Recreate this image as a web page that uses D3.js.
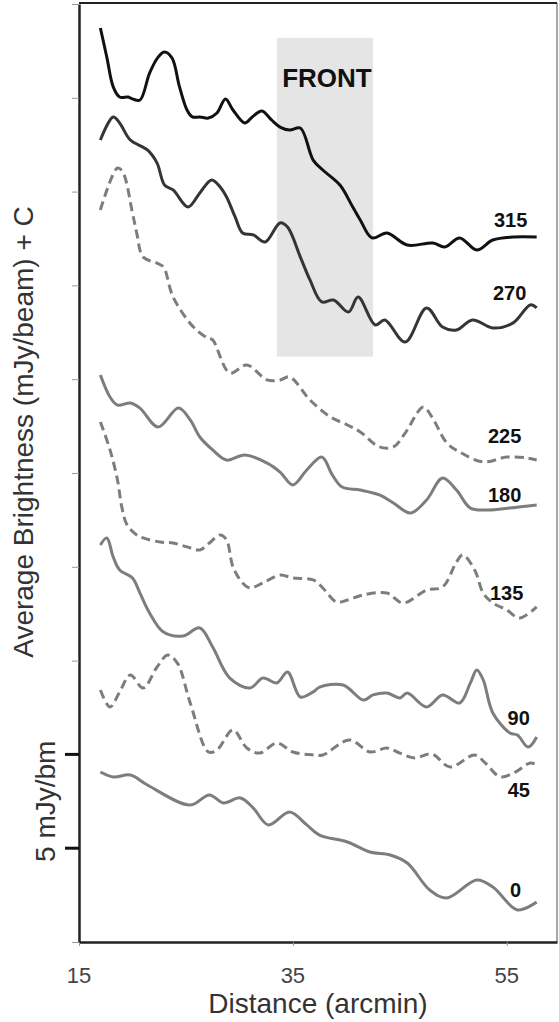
<!DOCTYPE html>
<html>
<head>
<meta charset="utf-8">
<script src="https://d3js.org/d3.v7.min.js"></script>
<style>
    body { margin: 0; background: white; }
    svg { display: block; font-family: 'Liberation Sans', Arial, sans-serif; }
    .tick-label { font-size: 22px; fill: #444; }
    .axis-title { font-size: 28px; fill: #333; }
    .series-label { font-size: 20px; font-weight: bold; fill: #111; }
</style>
</head>
<body>
<svg id="svg-profiles" width="559" height="1022"></svg>
<script>

////////////
/// DATA ///
////////////

// position angle of each profile (degrees), top to bottom
const angles = ['315', '270', '225', '180', '135', '90', '45', '0'];

// [distance (arcmin), average brightness (mJy/beam) + C]
const p315 = [[17.0,48.72],[17.6,47.17],[18.2,45.58],[18.8,45.04],[19.6,45.04],[20.0,44.94],[20.7,44.88],
    [21.6,46.32],[22.4,47.17],[23.0,47.44],[23.7,47.12],[24.4,45.58],[25.1,44.35],[25.6,43.98],[26.3,43.98],
    [27.1,43.92],[27.9,44.19],[28.7,44.94],[29.4,44.35],[30.5,43.66],[31.2,43.98],[32.1,44.30],[33.0,43.82],
    [33.8,43.44],[34.7,43.28],[35.7,43.39],[36.9,41.68],[37.8,41.15],[39.4,40.35],[40.6,39.18],[41.3,38.49],
    [42.4,37.53],[43.8,37.79],[45.7,37.15],[48.1,37.26],[49.2,37.05],[50.6,37.53],[52.2,36.89],[53.7,37.42],
    [55.6,37.58],[57.8,37.58]];

const p270 = [[17.0,42.75],[18.2,43.98],[18.8,43.66],[19.8,42.75],[21.4,42.22],[22.3,41.52],[23.0,40.35],
    [23.8,40.09],[25.2,39.18],[26.3,39.93],[27.4,40.62],[28.2,40.25],[28.8,39.71],[29.6,38.65],[30.3,37.79],
    [31.3,37.69],[32.4,37.31],[33.8,38.33],[34.5,38.11],[35.7,36.51],[36.6,35.29],[37.7,34.12],[38.8,34.22],
    [40.2,33.58],[41.1,34.38],[42.7,32.89],[43.6,33.16],[45.5,31.98],[47.5,33.80],[49.0,32.78],[50.3,32.62],
    [51.8,33.16],[53.7,32.73],[55.6,33.00],[57.2,33.96],[57.8,33.80]];

const p225 = [[17.0,39.02],[18.6,41.26],[19.1,41.04],[20.0,38.86],[20.4,37.79],[21.0,36.51],[22.3,36.19],
    [22.9,35.98],[23.8,34.38],[25.7,32.78],[27.0,32.20],[27.5,32.09],[29.1,30.33],[30.7,30.76],[32.6,29.96],
    [33.8,29.96],[34.7,30.12],[36.6,28.89],[38.5,27.99],[40.1,27.56],[41.3,27.19],[43.1,26.39],[44.4,26.39],
    [45.5,27.13],[47.2,28.52],[48.0,27.99],[49.4,26.60],[50.6,26.12],[52.8,25.59],[55.0,25.85],[56.9,25.80],
    [57.8,25.69]];

const p180 = [[17.0,30.22],[17.9,29.05],[18.6,28.62],[19.8,28.73],[20.7,28.46],[22.4,27.45],[24.3,28.46],
    [25.4,27.83],[26.3,26.92],[27.5,26.23],[28.8,25.69],[30.5,25.96],[32.6,25.53],[33.8,25.05],[35.0,24.36],
    [36.3,25.16],[37.7,25.85],[38.7,24.89],[39.6,24.25],[41.3,24.09],[43.1,23.83],[44.4,23.40],[46.0,22.87],
    [47.5,23.56],[49.0,24.73],[50.3,24.09],[51.6,23.13],[53.2,23.03],[55.3,23.13],[57.8,23.29]];

const p135 = [[17.0,27.72],[17.9,26.23],[18.6,24.63],[19.0,23.19],[19.5,22.23],[20.4,21.70],[21.0,21.54],
    [22.6,21.32],[23.8,21.27],[25.1,21.06],[26.3,20.90],[27.2,21.27],[28.2,21.70],[28.8,21.43],[29.4,19.99],
    [30.3,19.14],[31.0,18.87],[32.2,19.14],[33.8,19.56],[35.0,19.40],[36.9,19.30],[37.8,18.87],[39.1,18.12],
    [40.1,18.23],[41.6,18.50],[43.8,18.60],[45.3,18.07],[47.5,18.76],[49.0,18.92],[50.3,20.26],[50.9,20.63],
    [52.0,19.83],[52.8,18.60],[53.7,18.07],[55.0,17.70],[56.2,17.27],[57.8,17.86]];

const p90 = [[17.0,21.16],[17.6,21.54],[18.2,20.52],[18.8,19.83],[20.0,19.40],[20.7,18.60],[21.6,17.54],
    [22.9,16.52],[24.7,16.31],[26.3,16.74],[27.5,15.72],[29.1,14.07],[31.0,13.54],[32.2,14.07],[33.5,13.81],
    [34.5,14.39],[35.7,13.06],[36.9,13.33],[37.5,13.59],[39.7,13.70],[41.6,12.90],[42.5,13.17],[43.8,13.27],
    [45.0,13.01],[45.7,13.27],[47.5,12.53],[49.0,13.17],[50.6,12.74],[51.6,13.81],[52.2,14.50],[52.8,13.97],
    [53.7,12.21],[55.3,11.14],[56.0,11.03],[57.0,10.39],[57.8,10.93]];

const p45 = [[17.0,13.43],[17.9,12.53],[18.8,13.33],[19.8,14.23],[21.0,13.54],[22.3,14.66],[23.3,15.30],
    [24.2,14.87],[25.4,12.74],[27.1,10.13],[27.9,10.23],[29.4,11.30],[30.7,10.34],[31.9,10.07],[33.5,10.61],
    [35.0,10.13],[36.9,9.97],[37.8,9.97],[40.3,10.77],[42.2,10.13],[43.8,10.34],[45.0,10.07],[46.4,9.81],
    [48.0,10.02],[49.7,9.33],[52.0,9.97],[53.0,9.54],[54.4,8.80],[55.8,9.06],[57.2,9.54],[57.9,9.43]];

const p0 = [[17.0,9.06],[18.2,8.80],[19.8,8.90],[21.4,8.37],[25.4,7.30],[27.2,7.84],[28.5,7.41],[30.1,7.68],
    [31.3,7.14],[32.7,6.24],[34.7,6.93],[36.3,6.24],[37.5,5.70],[40.1,5.33],[42.2,4.80],[44.1,4.64],
    [45.7,4.21],[47.8,2.77],[49.4,2.35],[52.2,3.30],[53.7,2.93],[56.0,1.71],[57.8,2.13]];

const profiles = [p315, p270, p225, p180, p135, p90, p45, p0];

// axis ticks
const xTicks = [15, 35, 55];
const yTicks = [0, 5, 10, 15, 20, 25, 30, 35, 40, 45, 50];
const scaleBarTicks = [5, 10];

// shaded front region: distance range and brightness range
const frontX = [33.5, 42.5];
const frontY = [31.2, 48.2];

//////////////
/// STYLES ///
//////////////

// line style per profile, same order as angles
const lineStyles = [
    {color: '#111', dash: null},
    {color: '#353535', dash: null},
    {color: '#7d7d7d', dash: '9,5'},
    {color: '#7d7d7d', dash: null},
    {color: '#7d7d7d', dash: '9,5'},
    {color: '#7d7d7d', dash: null},
    {color: '#7d7d7d', dash: '9,5'},
    {color: '#7d7d7d', dash: null}
];

// label placement relative to the end of each line (pixels)
const labelOffsets = [
    {dx: -26, dy: -10}, {dx: -27, dy: -8}, {dx: -32, dy: -17}, {dx: -32, dy: -3},
    {dx: -30, dy: -7}, {dx: -18, dy: -12}, {dx: -19, dy: 32}, {dx: -21, dy: -5}
];

//////////////
/// SCALES ///
//////////////

const svg = d3.select('#svg-profiles');

const plotLeft = 79, plotRight = 557, plotTop = 4, plotBottom = 942;

const xScale = d3.scaleLinear()
    .domain([15, 59.7])
    .range([plotLeft, plotRight]);

const yScale = d3.scaleLinear()
    .domain([0, 50])
    .range([plotBottom, plotTop]);

///////////////////
/// FRONT SHADE ///
///////////////////

svg.append('rect')
    .attr('x', xScale(frontX[0]))
    .attr('y', yScale(frontY[1]))
    .attr('width', xScale(frontX[1]) - xScale(frontX[0]))
    .attr('height', yScale(frontY[0]) - yScale(frontY[1]))
    .attr('fill', '#e5e5e5');

svg.append('text')
    .attr('x', (xScale(frontX[0]) + xScale(frontX[1])) / 2 + 2)
    .attr('y', 87)
    .attr('text-anchor', 'middle')
    .attr('font-size', 26)
    .attr('font-weight', 'bold')
    .attr('fill', '#111')
    .text('FRONT');

/////////////
/// FRAME ///
/////////////

// right and top border
svg.append('line')
    .attr('x1', plotRight).attr('x2', plotRight)
    .attr('y1', plotTop - 1).attr('y2', plotBottom)
    .attr('stroke', '#888').attr('stroke-width', 1.5);

svg.append('line')
    .attr('x1', plotLeft).attr('x2', plotRight)
    .attr('y1', plotTop - 1).attr('y2', plotTop - 1)
    .attr('stroke', '#222').attr('stroke-width', 2);

// x-axis
const xAxis = svg.append('g')
    .attr('transform', 'translate(0,' + plotBottom + ')')
    .call(d3.axisBottom(xScale).tickValues(xTicks).tickSize(4).tickSizeOuter(0).tickFormat(''));
xAxis.select('.domain').attr('stroke', '#222').attr('stroke-width', 2.5);
xAxis.selectAll('.tick line').attr('stroke', '#999');

svg.selectAll('.x-label').data(xTicks).enter()
    .append('text')
    .attr('class', 'tick-label')
    .attr('x', function(d) {return xScale(d)})
    .attr('y', 983)
    .attr('text-anchor', 'middle')
    .text(function(d) {return d});

// y-axis, unlabeled ticks
const yAxis = svg.append('g')
    .attr('transform', 'translate(' + plotLeft + ',0)')
    .call(d3.axisLeft(yScale).tickValues(yTicks).tickSize(7).tickSizeOuter(0).tickFormat(''));
yAxis.select('.domain').attr('stroke', '#222').attr('stroke-width', 2.5);
yAxis.selectAll('.tick line').attr('stroke', '#999');

// bold 5 mJy/bm scale bar ticks
svg.selectAll('.scale-tick').data(scaleBarTicks).enter()
    .append('line')
    .attr('x1', plotLeft - 14).attr('x2', plotLeft)
    .attr('y1', function(d) {return yScale(d)})
    .attr('y2', function(d) {return yScale(d)})
    .attr('stroke', '#111').attr('stroke-width', 3);

svg.append('text')
    .attr('class', 'axis-title')
    .attr('font-size', 25)
    .attr('fill', '#222')
    .attr('transform', 'translate(55,' + yScale(d3.mean(scaleBarTicks)) + ') rotate(-90)')
    .attr('text-anchor', 'middle')
    .text('5 mJy/bm');

// axis titles
svg.append('text')
    .attr('class', 'axis-title')
    .attr('x', 318)
    .attr('y', 1013)
    .attr('text-anchor', 'middle')
    .text('Distance (arcmin)');

svg.append('text')
    .attr('class', 'axis-title')
    .attr('transform', 'translate(33,432) rotate(-90)')
    .attr('text-anchor', 'middle')
    .text('Average Brightness (mJy/beam) + C');

////////////////
/// PROFILES ///
////////////////

const line = d3.line()
    .x(function(d) {return xScale(d[0])})
    .y(function(d) {return yScale(d[1])})
    .curve(d3.curveCatmullRom.alpha(0.5));

svg.append('g')
    .attr('id', 'profiles')
    .selectAll('path').data(profiles).enter()
        .append('path')
        .attr('d', line)
        .attr('fill', 'none')
        .attr('stroke', function(d, i) {return lineStyles[i].color})
        .attr('stroke-width', 3)
        .attr('stroke-linejoin', 'round')
        .attr('stroke-dasharray', function(d, i) {return lineStyles[i].dash});

// angle labels near the right end of each profile
svg.append('g')
    .attr('id', 'labels')
    .selectAll('text').data(angles).enter()
        .append('text')
        .attr('class', 'series-label')
        .attr('text-anchor', 'middle')
        .attr('x', function(d, i) {
            const last = profiles[i][profiles[i].length - 1];
            return xScale(last[0]) + labelOffsets[i].dx;
        })
        .attr('y', function(d, i) {
            const last = profiles[i][profiles[i].length - 1];
            return yScale(last[1]) + labelOffsets[i].dy;
        })
        .text(function(d) {return d});

</script>
</body>
</html>
